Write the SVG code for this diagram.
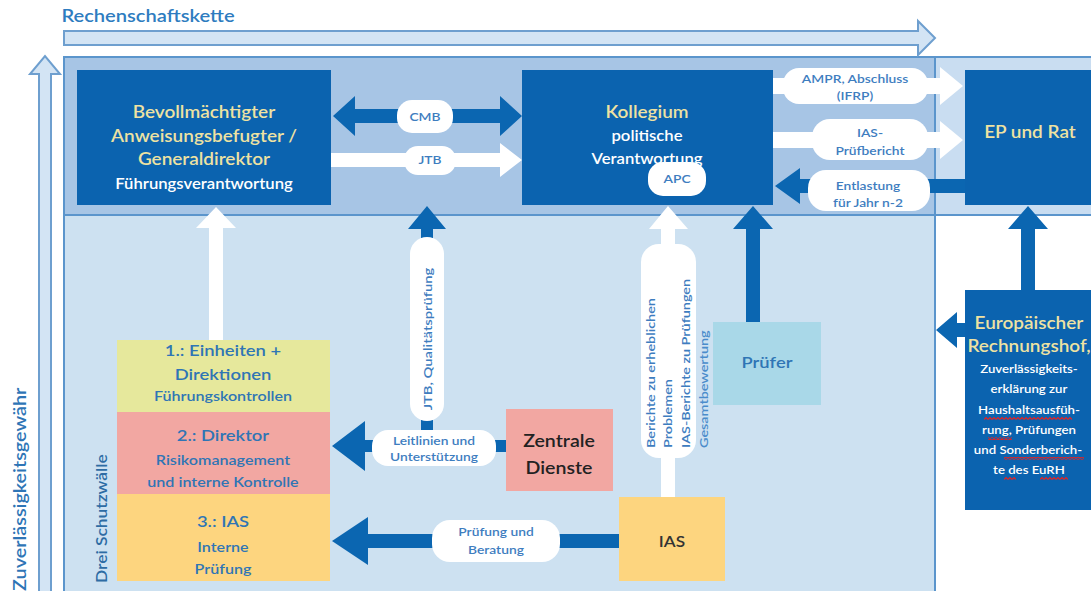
<svg xmlns="http://www.w3.org/2000/svg" width="1091" height="591" viewBox="0 0 1091 591">
<defs>
<style>
text{font-family:Lato,"Liberation Sans",sans-serif;font-weight:600}
.s{transform-box:fill-box;transform-origin:center;transform:scaleX(1.15)}
.dk{fill:#0B63AF}
.gold{fill:#EEE2A2;font-size:16.5px}
.wh{fill:#FFFFFF;font-size:14.5px}
.bl{fill:#2F75B5}
.bub{fill:#FFFFFF}
.bt{fill:#3E7DBF;font-size:12px}
.arr{fill:#0B66B1}
.warr{fill:#FFFFFF}
.frame{stroke:#5B95CC;stroke-width:2}
.hollow{fill:#D3E4F4;stroke:#6E9FCF;stroke-width:2}
.m{text-anchor:middle}
</style>
<pattern id="wavy" width="4" height="3" patternUnits="userSpaceOnUse"><path d="M0,2.5 L2,0.5 L4,2.5" fill="none" stroke="#E02424" stroke-width="1.2"/></pattern>
</defs>
<rect width="1091" height="591" fill="#FFFFFF"/>

<g id="frame">
<rect x="64" y="215" width="871" height="380" fill="#CDE1F1" class="frame"/>
<rect x="935" y="57" width="160" height="158" fill="#C9DDF1" class="frame"/>
<rect x="64" y="57" width="871" height="158" fill="#A7C5E5" class="frame"/>
<line x1="935" y1="57" x2="935" y2="591" stroke="#5B95CC" stroke-width="2"/>
<polygon class="hollow" points="64,31 918,31 918,21 935,38 918,55 918,45 64,45"/>
<text class="s m" x="148" y="22" fill="#2E7CC0" font-size="17.5">Rechenschaftskette</text>
<polygon class="hollow" points="39,595 39,74 30,74 45,56 60,74 51,74 51,595"/>
<text transform="translate(26,591) rotate(-90) scale(1.2,1)" fill="#2E75B6" font-size="16.5">Zuverlässigkeitsgewähr</text>
<text transform="translate(107,583) rotate(-90) scale(1.2,1)" fill="#2E6CA4" font-size="14.5">Drei Schutzwälle</text>
</g>

<g id="connectors">
<polygon class="arr" points="333,116 355,96 355,109 500,109 500,96 522,116 500,136 500,123 355,123 355,136"/>
<rect class="bub" x="397" y="100" width="56" height="33" rx="15"/>
<text class="bt m s" x="425" y="121">CMB</text>
<polygon class="warr" points="331,153 500,153 500,143 522,160 500,177 500,167 331,167"/>
<rect class="bub" x="404" y="146" width="52" height="29" rx="14"/>
<text class="bt m s" x="430" y="164">JTB</text>

<polygon class="warr" points="773,78 940,78 940,67 963,86 940,105 940,94 773,94"/>
<rect class="bub" x="783" y="68" width="145" height="36" rx="16"/>
<text class="bt m s" x="855" y="83">AMPR, Abschluss</text>
<text class="bt m s" x="855" y="100">(IFRP)</text>
<polygon class="warr" points="773,132 940,132 940,121 963,140 940,159 940,148 773,148"/>
<rect class="bub" x="812" y="119" width="116" height="41" rx="18"/>
<text class="bt m s" x="870" y="137">IAS-</text>
<text class="bt m s" x="870" y="155">Prüfbericht</text>
<polygon class="arr" points="965,179 800,179 800,168 775,186 800,204 800,193 965,193"/>
<rect class="bub" x="808" y="170" width="122" height="41" rx="18"/>
<text class="bt m s" x="868" y="190">Entlastung</text>
<text class="bt m s" x="868" y="207">für Jahr n-2</text>

<polygon class="warr" points="209,340 209,228 196,228 216,207 236,228 223,228 223,340"/>

<polygon class="arr" points="421,430 421,229 408,229 427,206 446,229 433,229 433,430"/>
<rect class="bub" x="410" y="237" width="34" height="184" rx="17"/>
<text transform="translate(432,339) rotate(-90) scale(1.23,1)" class="bt m">JTB, Qualitätsprüfung</text>

<polygon class="arr" points="506,440 365,440 365,421 332,446 365,471 365,452 506,452"/>
<rect class="bub" x="372" y="430" width="124" height="36" rx="16"/>
<text class="bt m s" x="434" y="445">Leitlinien und</text>
<text class="bt m s" x="434" y="461">Unterstützung</text>

<polygon class="arr" points="619,534 368,534 368,517 332,541 368,565 368,548 619,548"/>
<rect class="bub" x="432" y="520" width="128" height="42" rx="18"/>
<text class="bt m s" x="496" y="536">Prüfung und</text>
<text class="bt m s" x="496" y="554">Beratung</text>

<polygon class="warr" points="661,499 661,229 649,229 668,206 688,229 675,229 675,499"/>
<rect class="bub" x="641" y="244" width="55" height="214" rx="18"/>
<g class="bt" font-size="11.5">
<text transform="translate(655,448) rotate(-90) scale(1.2,1)">Berichte zu erheblichen</text>
<text transform="translate(672,448) rotate(-90) scale(1.2,1)">Problemen</text>
<text transform="translate(690,448) rotate(-90) scale(1.2,1)">IAS-Berichte zu Prüfungen</text>
<text transform="translate(708,448) rotate(-90) scale(1.2,1)" fill="#4A8CCB">Gesamtbewertung</text>
</g>

<polygon class="arr" points="746,322 746,229 733,229 753,206 773,229 760,229 760,322"/>
<polygon class="arr" points="1021,290 1021,229 1008,229 1028,206 1048,229 1035,229 1035,290"/>
<polygon class="arr" points="965,323 957,323 957,312 936,330 957,348 957,337 965,337"/>
</g>

<g id="node-bevollmaechtigter">
<rect class="dk" x="77" y="70" width="254" height="135"/>
<text class="gold m s" x="204" y="118">Bevollmächtigter</text>
<text class="gold m s" x="204" y="142">Anweisungsbefugter /</text>
<text class="gold m s" x="204" y="165">Generaldirektor</text>
<text class="wh m s" x="204" y="189">Führungsverantwortung</text>
</g>

<g id="node-kollegium">
<rect class="dk" x="522" y="70" width="251" height="135"/>
<text class="gold m s" x="647" y="118">Kollegium</text>
<text class="wh m s" x="647" y="141">politische</text>
<text class="wh m s" x="647" y="164">Verantwortung</text>
<rect class="bub" x="648" y="162" width="58" height="34" rx="15"/>
<text class="bt m s" x="677" y="183">APC</text>
</g>

<g id="node-ep-rat">
<rect class="dk" x="965" y="70" width="130" height="135"/>
<text class="gold m s" x="1030" y="138" font-size="15">EP und Rat</text>
</g>

<g id="node-rechnungshof">
<rect class="dk" x="965" y="290" width="130" height="220"/>
<text class="gold m s" x="1029" y="329" font-size="15.5">Europäischer</text>
<text class="gold m s" x="1029" y="352" font-size="14.5">Rechnungshof,</text>
<g class="m" fill="#FFFFFF" font-size="11.5">
<text class="s" x="1029" y="373">Zuverlässigkeits-</text>
<text class="s" x="1029" y="393">erklärung zur</text>
<text class="s" x="1029" y="414">Haushaltsausfüh-</text>
<text class="s" x="1029" y="434">rung, Prüfungen</text>
<text class="s" x="1028" y="454">und Sonderberich-</text>
<text class="s" x="1029" y="474">te des EuRH</text>
</g>
<rect x="984" y="417" width="88" height="3" fill="url(#wavy)"/>
<rect x="988" y="437" width="24" height="3" fill="url(#wavy)"/>
<rect x="1004" y="457" width="80" height="3" fill="url(#wavy)"/>
<rect x="1004" y="477" width="12" height="3" fill="url(#wavy)"/>
<rect x="1040" y="477" width="28" height="3" fill="url(#wavy)"/>
</g>

<g id="node-einheiten">
<rect x="117" y="340" width="213" height="72" fill="#E6E89C"/>
<text class="bl m s" x="223" y="356" font-size="16">1.: Einheiten +</text>
<text class="bl m s" x="223" y="380" font-size="16">Direktionen</text>
<text class="bl m s" x="223" y="401" font-size="14">Führungskontrollen</text>
</g>

<g id="node-direktor">
<rect x="117" y="412" width="213" height="82" fill="#F2A7A2"/>
<text class="bl m s" x="223" y="441" font-size="16">2.: Direktor</text>
<text class="bl m s" x="223" y="465" font-size="14">Risikomanagement</text>
<text class="bl m s" x="223" y="487" font-size="14">und interne Kontrolle</text>
</g>

<g id="node-ias-pruefung">
<rect x="117" y="494" width="213" height="87" fill="#FDD57F"/>
<text class="bl m s" x="223" y="527" font-size="16">3.: IAS</text>
<text class="bl m s" x="223" y="552" font-size="14">Interne</text>
<text class="bl m s" x="223" y="574" font-size="14">Prüfung</text>
</g>

<g id="node-zentrale">
<rect x="506" y="409" width="107" height="82" fill="#F2A7A2"/>
<text class="m s" x="559" y="447" fill="#222" font-size="17">Zentrale</text>
<text class="m s" x="559" y="474" fill="#222" font-size="17">Dienste</text>
</g>

<g id="node-ias">
<rect x="619" y="497" width="106" height="84" fill="#FDD57F"/>
<text class="m s" x="672" y="547" fill="#333" font-size="15">IAS</text>
</g>

<g id="node-pruefer">
<rect x="713" y="322" width="108" height="83" fill="#A9D8E8"/>
<text class="bl m s" x="767" y="368" font-size="16">Prüfer</text>
</g>
</svg>
